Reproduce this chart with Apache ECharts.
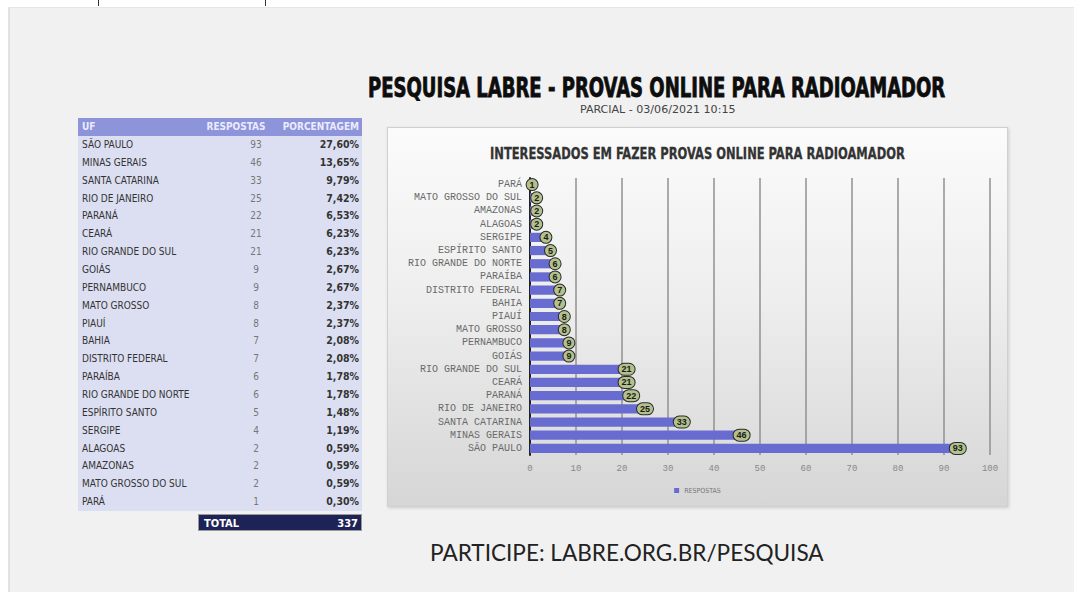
<!DOCTYPE html>
<html>
<head>
<meta charset="utf-8">
<script src="https://cdn.jsdelivr.net/npm/echarts@6/dist/echarts.min.js"></script>
<style>
  html, body { margin: 0; padding: 0; }
  body { width: 1074px; height: 592px; background: #ffffff; position: relative; overflow: hidden;
         font-family: "DejaVu Sans Condensed", "DejaVu Sans", sans-serif; }
  #page { position: absolute; left: 8px; top: 7px; right: 0; bottom: 0; background: #f1f1f1;
          border-left: 2px solid #e2e2e2; border-top: 1px solid #e6e6e6; }
  .mark { position: absolute; top: 0; width: 1px; height: 6px; background: #333; }
  .fit { position: absolute; white-space: nowrap; transform-origin: 0 0; }
  #title { left: 368px; top: 74px; font-size: 26px; font-weight: 900; color: #0d0d0d; line-height: 28px;
           -webkit-text-stroke: 0.8px #0d0d0d; }
  #subtitle { left: 580px; top: 104px; font-size: 10px; color: #444; line-height: 12px; }
  #footer { left: 430px; top: 538px; font-family: Lato, "Open Sans", sans-serif; font-size: 24px; color: #222; line-height: 28px; }
  #ctitle { left: 490px; top: 145px; font-size: 16px; font-weight: bold; color: #333; line-height: 18px;
            -webkit-text-stroke: 0.3px #333; }
  #table { position: absolute; left: 78px; top: 118px; width: 284px; }
  .row { position: relative; height: 17.86px; background: #dcdff1; color: #333; font-size: 10px; line-height: 17.86px; }
  .row span { position: absolute; white-space: nowrap; }
  .hdr { height: 18px; background: #8d94da; color: #e9ebff; font-weight: bold; line-height: 18px; font-size: 10px; }
  .c1 { left: 4px; }
  .c2 { left: 160px; width: 36px; text-align: center; color: #777; }
  .hdr .c2 { left: 124px; width: 68px; color: #e9ebff; }
  .c3 { right: 3px; font-weight: bold; color: #333; font-size: 10.5px; }
  .hdr .c3 { color: #e9ebff; font-size: 10px; }
  #total { position: absolute; left: 198px; top: 514px; width: 164px; height: 17px; background: #1d2356;
           color: #fff; font-weight: bold; font-size: 11px; line-height: 17px; border: 1px solid #999; box-sizing: border-box; }
  #total span { position: absolute; }
  #panel { position: absolute; left: 387px; top: 127px; width: 621px; height: 380px;
           background: linear-gradient(#fbfbfb, #eeeeee 45%, #d6d6d6);
           border: 1px solid #d0d0d0; box-sizing: border-box; box-shadow: 1px 1px 3px rgba(0,0,0,0.15); }
  #chart { position: absolute; left: 387px; top: 127px; width: 621px; height: 380px; }
</style>
</head>
<body>
<div id="page"></div>
<div class="mark" style="left:98px"></div>
<div class="mark" style="left:265px"></div>

<div id="title" class="fit" data-w="577">PESQUISA LABRE - PROVAS ONLINE PARA RADIOAMADOR</div>
<div id="subtitle" class="fit" data-w="155">PARCIAL - 03/06/2021 10:15</div>

<div id="table"></div>
<div id="total"><span style="left:5px">TOTAL</span><span id="totalVal" style="right:3px"></span></div>

<div id="panel"></div>
<div id="chart"></div>
<div id="ctitle" class="fit" data-w="415">INTERESSADOS EM FAZER PROVAS ONLINE PARA RADIOAMADOR</div>

<div id="footer" class="fit" data-w="394">PARTICIPE: LABRE.ORG.BR/PESQUISA</div>

<script>
// estados (UF), em ordem da tabela
const states = [
  'SÃO PAULO', 'MINAS GERAIS', 'SANTA CATARINA', 'RIO DE JANEIRO', 'PARANÁ', 'CEARÁ',
  'RIO GRANDE DO SUL', 'GOIÁS', 'PERNAMBUCO', 'MATO GROSSO', 'PIAUÍ', 'BAHIA',
  'DISTRITO FEDERAL', 'PARAÍBA', 'RIO GRANDE DO NORTE', 'ESPÍRITO SANTO', 'SERGIPE',
  'ALAGOAS', 'AMAZONAS', 'MATO GROSSO DO SUL', 'PARÁ'
];
// respostas por estado
const responses = [93, 46, 33, 25, 22, 21, 21, 9, 9, 8, 8, 7, 7, 6, 6, 5, 4, 2, 2, 2, 1];
// porcentagens como aparecem na tabela
const percents = [
  '27,60%', '13,65%', '9,79%', '7,42%', '6,53%', '6,23%', '6,23%', '2,67%', '2,67%', '2,37%',
  '2,37%', '2,08%', '2,08%', '1,78%', '1,78%', '1,48%', '1,19%', '0,59%', '0,59%', '0,59%', '0,30%'
];
const totalResponses = 337;
const tableHeader = ['UF', 'RESPOSTAS', 'PORCENTAGEM'];
const seriesName = 'RESPOSTAS';

// monta a tabela
function buildTable() {
    const t = document.getElementById('table');
    let html = `<div class="row hdr"><span class="c1">${tableHeader[0]}</span>` +
               `<span class="c2">${tableHeader[1]}</span><span class="c3">${tableHeader[2]}</span></div>`;
    states.forEach((s, i) => {
        html += `<div class="row"><span class="c1">${s}</span>` +
                `<span class="c2">${responses[i]}</span><span class="c3">${percents[i]}</span></div>`;
    });
    t.innerHTML = html;
    document.getElementById('totalVal').textContent = totalResponses;
}

// ajusta largura dos textos
function fitTexts() {
    document.querySelectorAll('.fit').forEach(el => {
        const w = parseFloat(el.dataset.w);
        el.style.transform = `scaleX(${w / el.offsetWidth})`;
    });
}

buildTable();
fitTexts();

const chart = echarts.init(document.getElementById('chart'), null, { renderer: 'svg' });
chart.setOption({
    animation: false,
    backgroundColor: 'transparent',
    legend: {
        data: [seriesName],
        bottom: 8,
        left: 'center',
        icon: 'rect',
        itemWidth: 5,
        itemHeight: 5,
        itemGap: 4,
        textStyle: { color: '#777', fontSize: 7, fontFamily: 'DejaVu Sans Condensed, DejaVu Sans' }
    },
    grid: { left: 143, right: 18, top: 51, bottom: 52, containLabel: false },
    xAxis: {
        type: 'value',
        min: 0,
        max: 100,
        interval: 10,
        axisLine: { show: false },
        axisTick: { show: false },
        axisLabel: { color: '#888', fontSize: 9, fontFamily: 'Liberation Mono, DejaVu Sans Mono', margin: 9 },
        splitLine: { show: true, lineStyle: { color: '#909090', width: 1.5 } }
    },
    yAxis: {
        type: 'category',
        data: states,
        axisLine: { lineStyle: { color: '#222', width: 2 } },
        axisTick: { show: false },
        axisLabel: { interval: 0, color: '#6a6a6a', fontSize: 10, fontFamily: 'Liberation Mono, DejaVu Sans Mono', margin: 8 }
    },
    series: [{
        name: seriesName,
        type: 'bar',
        data: responses,
        barCategoryGap: '30%',
        itemStyle: { color: '#686bd0' },
        label: {
            show: true,
            position: 'right',
            distance: -8,
            color: '#1a1a1a',
            fontSize: 9,
            fontWeight: 'bold',
            backgroundColor: '#b3c18c',
            borderColor: '#2a2a2a',
            borderWidth: 1,
            borderRadius: 8,
            padding: [1, 3]
        }
    }]
});

window.addEventListener('resize', function() {
    chart.resize();
});
</script>
</body>
</html>
